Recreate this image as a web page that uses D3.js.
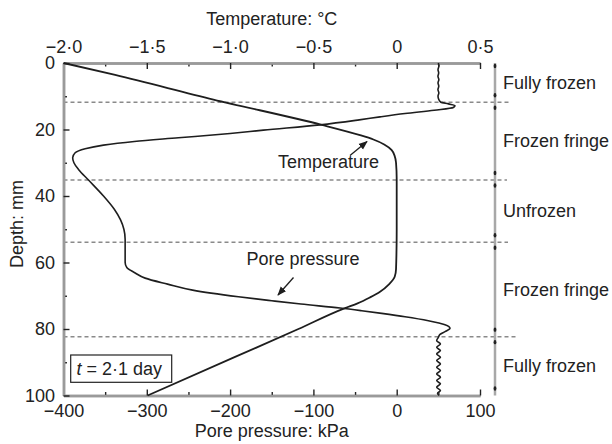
<!DOCTYPE html>
<html>
<head>
<meta charset="utf-8">
<script src="https://cdn.jsdelivr.net/npm/d3@7/dist/d3.min.js"></script>
<style>
  html, body { margin: 0; padding: 0; background: #fff; }
  svg { display: block; }
  text { font-family: "Liberation Sans", Arial, Helvetica, sans-serif; fill: #222; }
</style>
</head>
<body>
<svg id="chart" width="612" height="444"></svg>
<script>
// Temperature profile: depth (mm) and temperature (°C)
const tempDepth = [0, 3.6, 11, 18.6, 21.7, 23.0, 24.5, 26.2, 28, 30, 35, 50, 62, 64.3, 66.5, 68.8, 70.5, 72.3, 73.7, 80, 88.4, 100];
const tempValue = [-2.0, -1.69, -1.10, -0.45, -0.22, -0.14, -0.075, -0.03, -0.012, -0.004, 0, 0, -0.004, -0.012, -0.045, -0.10, -0.16, -0.235, -0.31, -0.59, -0.97, -1.495];

// Pore pressure profile: depth (mm) and pressure (kPa)
const poreDepth = [0, 1, 2, 3, 4, 5, 6, 7, 8, 9, 10, 11, 11.8, 12.3, 12.8, 13.4, 14.2, 15.2, 16.2, 17.1, 18.6, 20.2, 21.2, 22.5, 23.6, 24.7, 25.8, 27, 28.5, 30, 32, 35.2, 40, 44, 47.2, 50, 53, 60, 61.5, 63, 64.7, 66.5, 68.3, 70.3, 71.5, 72.5, 73.7, 74.5, 75.3, 76.3, 77.5, 78.7, 79.8, 80.8, 81.6, 82.5, 83.5, 84.5, 85.5, 86.5, 87.5, 88.5, 89.5, 90.5, 91.5, 92.5, 93.5, 94.5, 95.5, 96.5, 97.5, 98.5, 99.3, 100];
const poreValue = [50, 50.6, 49.6, 50.4, 49.5, 50.6, 49.6, 50.5, 49.5, 50.6, 49.6, 50.6, 53, 62, 70, 68, 45, 10, -20, -45, -92, -160, -200, -262, -315, -352, -374, -386, -389, -387.5, -382, -370, -352, -339, -331.5, -327.5, -326, -326, -324, -315, -302, -275, -245, -190, -150, -115, -68, -42, -18, 10, 38, 58, 64, 58, 52, 50, 48, 52.5, 48, 52.5, 48, 52.5, 48, 52.5, 48, 52.5, 48, 52.5, 48, 52.5, 48, 52.5, 49, 51];

// Axis ticks
const tempTicks = [-2.0, -1.5, -1.0, -0.5, 0, 0.5];
const tempMinorTicks = [-1.75, -1.25, -0.75, -0.25, 0.25];
const poreTicks = [-400, -300, -200, -100, 0, 100];
const poreMinorTicks = [-350, -250, -150, -50, 50];
const depthTicks = [0, 20, 40, 60, 80, 100];
const depthMinorTicks = [10, 30, 50, 70, 90];

// Zone boundaries (mm) and zone names
const zoneBounds = [0, 11.8, 35.2, 53.9, 82.3, 100];
const zoneNames = ["Fully frozen", "Frozen fringe", "Unfrozen", "Frozen fringe", "Fully frozen"];
const dashEnds = [510, 507, 508, 517];

const svg = d3.select("#chart");
const X0 = 63.5, X1 = 480, Y0 = 63, Y1 = 395.5;
const FS = 18;

const xT = d3.scaleLinear().domain([-2.0, 0.5]).range([X0, X1]);
const xP = d3.scaleLinear().domain([-400, 100]).range([X0, X1]);
const y = d3.scaleLinear().domain([0, 100]).range([Y0, Y1]);

const fmtT = d => d === 0 ? "0" : d3.format(".1f")(d).replace("-", "\u2212").replace(".", "\u00b7");
const fmtP = d => d3.format("d")(d).replace("-", "\u2212");

// Zone separators
svg.append("g").selectAll("line")
  .data(zoneBounds.slice(1, -1))
  .join("line")
  .attr("x1", X0).attr("x2", (d, i) => dashEnds[i])
  .attr("y1", d => y(d)).attr("y2", d => y(d))
  .attr("stroke", "#8a8a8a").attr("stroke-width", 1.5)
  .attr("stroke-dasharray", "4,3");

function styleAxis(g) {
  g.select(".domain").attr("stroke", "#9a9a9a").attr("stroke-width", 2.5);
  g.selectAll(".tick line").attr("stroke", "#222").attr("stroke-width", 1.4);
  g.selectAll(".tick text").attr("font-size", FS).attr("fill", "#222")
    .attr("font-family", "Liberation Sans, Arial, sans-serif");
}

// Top axis: temperature
svg.append("g").attr("transform", `translate(0,${Y0})`)
  .call(d3.axisTop(xT).tickValues(tempMinorTicks).tickSize(-3.5).tickSizeOuter(0).tickFormat(""))
  .call(styleAxis);
svg.append("g").attr("transform", `translate(0,${Y0})`)
  .call(d3.axisTop(xT).tickValues(tempTicks).tickSize(-6).tickSizeOuter(0).tickPadding(10.5).tickFormat(fmtT))
  .call(styleAxis);

// Bottom axis: pore pressure
svg.append("g").attr("transform", `translate(0,${Y1})`)
  .call(d3.axisBottom(xP).tickValues(poreMinorTicks).tickSize(-3.5).tickSizeOuter(0).tickFormat(""))
  .call(styleAxis);
svg.append("g").attr("transform", `translate(0,${Y1})`)
  .call(d3.axisBottom(xP).tickValues(poreTicks).tickSize(-6).tickSizeOuter(0).tickPadding(8.7).tickFormat(fmtP))
  .call(styleAxis);

// Left axis: depth
svg.append("g").attr("transform", `translate(${X0},0)`)
  .call(d3.axisLeft(y).tickValues(depthMinorTicks).tickSize(-3.5).tickSizeOuter(0).tickFormat(""))
  .call(styleAxis);
svg.append("g").attr("transform", `translate(${X0},0)`)
  .call(d3.axisLeft(y).tickValues(depthTicks).tickSize(-6).tickSizeOuter(0).tickPadding(8.5).tickFormat(d3.format("d")))
  .call(styleAxis);

// Axis titles
svg.append("text").attr("x", (X0 + X1) / 2).attr("y", 25).attr("text-anchor", "middle")
  .attr("font-size", FS).text("Temperature: \u00b0C");
svg.append("text").attr("x", (X0 + X1) / 2).attr("y", 437).attr("text-anchor", "middle")
  .attr("font-size", FS).text("Pore pressure: kPa");
svg.append("text").attr("transform", "translate(23,224) rotate(-90)").attr("text-anchor", "middle")
  .attr("font-size", FS).text("Depth: mm");

// Profiles
const tempLine = d3.line().x(d => xT(d[1])).y(d => y(d[0])).curve(d3.curveMonotoneY);
const poreLine = d3.line().x(d => xP(d[1])).y(d => y(d[0])).curve(d3.curveMonotoneY);

svg.append("path").datum(d3.zip(tempDepth, tempValue))
  .attr("d", tempLine).attr("fill", "none").attr("stroke", "#1e1e1e").attr("stroke-width", 1.8);
svg.append("path").datum(d3.zip(poreDepth, poreValue))
  .attr("d", poreLine).attr("fill", "none").attr("stroke", "#1e1e1e").attr("stroke-width", 1.6);

// Curve labels with arrows
svg.append("defs").append("marker")
  .attr("id", "arrow").attr("viewBox", "0 0 10 10").attr("refX", 9).attr("refY", 5)
  .attr("markerWidth", 7).attr("markerHeight", 7).attr("orient", "auto")
  .append("path").attr("d", "M0,1 L10,5 L0,9 Z").attr("fill", "#1e1e1e");

svg.append("text").attr("x", 278).attr("y", 168).attr("font-size", FS).text("Temperature");
svg.append("line").attr("x1", 350).attr("y1", 155.5).attr("x2", 367).attr("y2", 141.5)
  .attr("stroke", "#1e1e1e").attr("stroke-width", 1.3).attr("marker-end", "url(#arrow)");

svg.append("text").attr("x", 246.5).attr("y", 265).attr("font-size", FS).text("Pore pressure");
svg.append("line").attr("x1", 293.5).attr("y1", 277.5).attr("x2", 278).attr("y2", 295)
  .attr("stroke", "#1e1e1e").attr("stroke-width", 1.3).attr("marker-end", "url(#arrow)");

// Zone bar on the right
const BX = 495;
svg.append("line").attr("x1", BX).attr("x2", BX).attr("y1", y(0)).attr("y2", y(100))
  .attr("stroke", "#a8a8a8").attr("stroke-width", 2.5);
const barMarks = [];
zoneBounds.forEach((b, i) => {
  if (i > 0) barMarks.push(y(b) - 7);
  if (i < zoneBounds.length - 1) barMarks.push(y(b) + (i === 0 ? 3 : 5.5));
});
svg.append("g").selectAll("ellipse").data(barMarks).join("ellipse")
  .attr("cx", BX).attr("cy", d => d).attr("rx", 1.4).attr("ry", 2.2).attr("fill", "#222");

svg.append("g").selectAll("text")
  .data(zoneNames)
  .join("text")
  .attr("x", 503)
  .attr("y", (d, i) => (y(zoneBounds[i]) + y(zoneBounds[i + 1])) / 2)
  .attr("dy", "0.35em")
  .attr("font-size", FS)
  .text(d => d);

// Time annotation
svg.append("rect").attr("x", 70.7).attr("y", 355).attr("width", 101).attr("height", 27.3)
  .attr("fill", "#fff").attr("stroke", "#222").attr("stroke-width", 1.2);
const tl = svg.append("text").attr("x", 76.5).attr("y", 375).attr("font-size", FS);
tl.append("tspan").attr("font-style", "italic").text("t");
tl.append("tspan").text(" = 2\u00b71 day");
</script>
</body>
</html>
